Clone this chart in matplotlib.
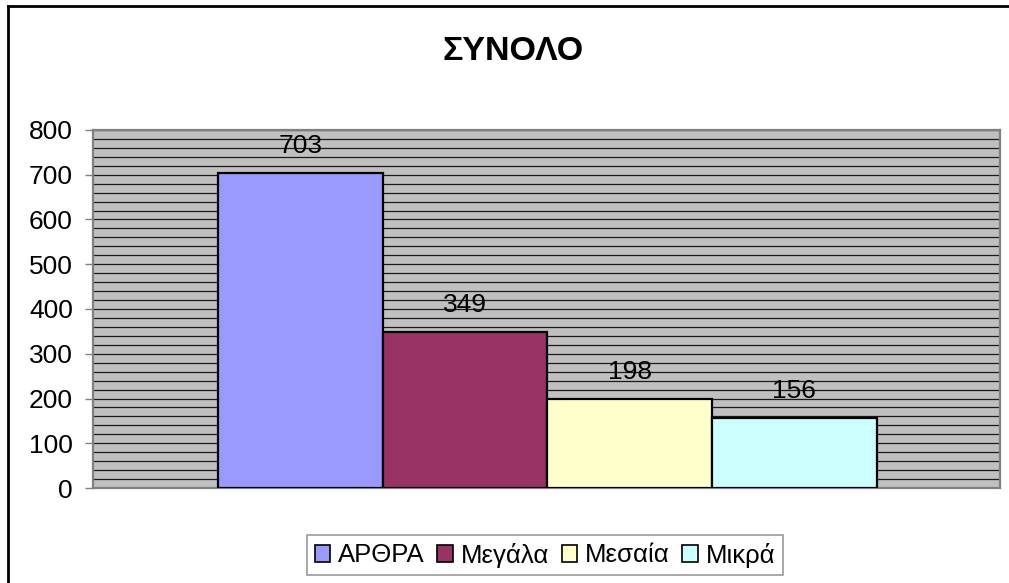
"""Bar chart of total counts per category (ΣΥΝΟΛΟ)."""

import matplotlib

matplotlib.use("Agg")
import matplotlib.pyplot as plt
from matplotlib.lines import Line2D
from matplotlib.ticker import MultipleLocator

CATEGORIES = ["ΑΡΘΡΑ", "Μεγάλα", "Μεσαία", "Μικρά"]
TOTALS = [703, 349, 198, 156]
COLORS = ["#9999FF", "#993366", "#FFFFCC", "#CCFFFF"]
Y_TICKS = [0, 100, 200, 300, 400, 500, 600, 700, 800]

plt.rcParams["font.family"] = ["Liberation Sans", "DejaVu Sans"]

fig = plt.figure(figsize=(10.09, 5.83), dpi=100)
ax = fig.add_axes([93 / 1009, 95 / 583, 907 / 1009, 358 / 583])

# outer chart frame: only its top and left edges fall inside the canvas
frame_x = 8 / 1009
frame_y = 1 - 6 / 583
fig.add_artist(Line2D([frame_x, 1.0], [frame_y, frame_y], transform=fig.transFigure,
                      color="black", linewidth=2.0))
fig.add_artist(Line2D([frame_x, frame_x], [0.0, frame_y], transform=fig.transFigure,
                      color="black", linewidth=2.0))

ax.set_facecolor("#C0C0C0")
ax.set_ylim(0, 800)
ax.set_xlim(-1.26, 4.25)
ax.yaxis.set_minor_locator(MultipleLocator(20))
ax.set_yticks(Y_TICKS)
ax.grid(True, which="both", axis="y", color="#1a1a1a", linewidth=0.9)
ax.set_axisbelow(True)

x = range(len(CATEGORIES))
bars = ax.bar(x, TOTALS, width=1.0, color=COLORS, edgecolor="black",
              linewidth=1.6, zorder=3)

for bar, value in zip(bars, TOTALS):
    ax.annotate(
        f"{value}",
        (bar.get_x() + bar.get_width() / 2, value),
        xytext=(0, 19.5),
        textcoords="offset points",
        ha="center",
        va="center",
        fontsize=19,
        zorder=4,
    )

for side in ["top", "right", "bottom", "left"]:
    ax.spines[side].set_color("#808080")
    ax.spines[side].set_linewidth(1.6)

ax.set_xticks([])
ax.tick_params(axis="y", which="major", length=5.5, width=1.0, color="#808080",
               pad=9, labelsize=19)
ax.tick_params(axis="y", which="minor", length=0)

fig.text(513 / 1009, 1 - 52 / 583, "ΣΥΝΟΛΟ", ha="center", va="center",
         fontsize=24.5, fontweight="bold")

legend = fig.legend(
    handles=list(bars),
    labels=CATEGORIES,
    loc="center",
    bbox_to_anchor=(545 / 1009, 1 - 555 / 583),
    ncol=4,
    fontsize=18.5,
    frameon=True,
    fancybox=False,
    handlelength=0.6,
    handleheight=0.6,
    handletextpad=0.3,
    columnspacing=0.5,
    borderpad=0.3,
    borderaxespad=0,
)
legend.get_frame().set_edgecolor("#808080")
legend.get_frame().set_linewidth(1.2)
for handle in legend.legend_handles:
    handle.set_linewidth(1.2)

fig.savefig("out.png", dpi=100)
